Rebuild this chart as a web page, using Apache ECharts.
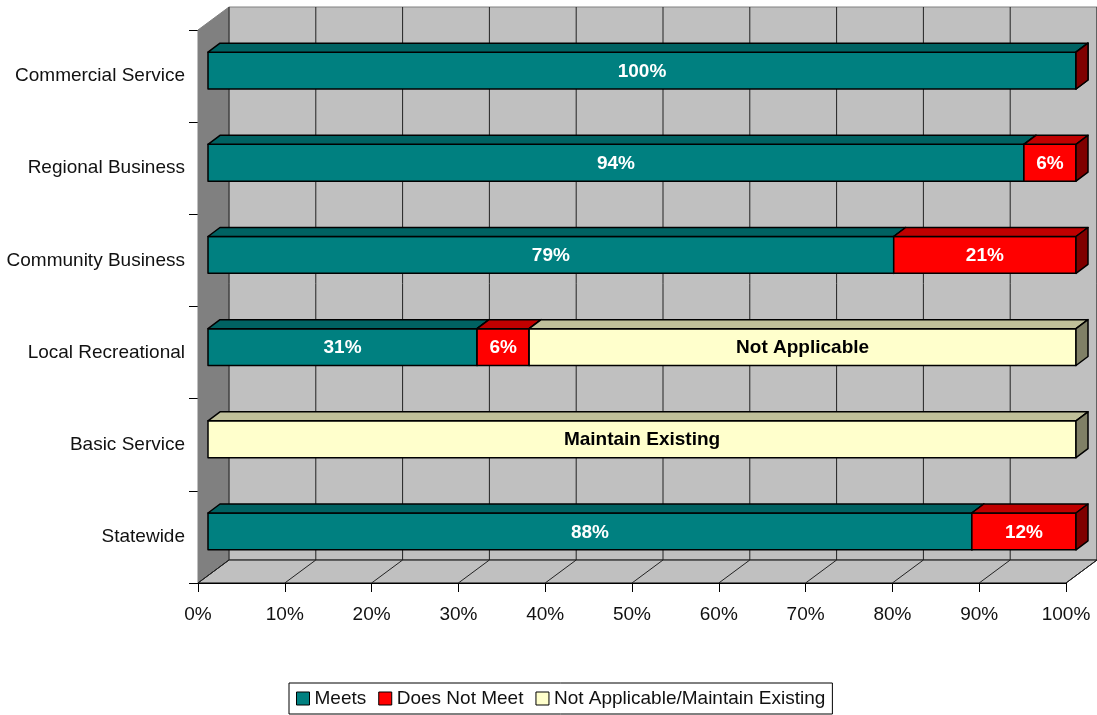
<!DOCTYPE html>
<html>
<head>
<meta charset="utf-8">
<script src="https://cdn.jsdelivr.net/npm/echarts@6/dist/echarts.min.js"></script>
<style>
  html, body { margin: 0; padding: 0; background: #fff; }
  #chart { width: 1097px; height: 715px; }
</style>
</head>
<body>
<div id="chart"></div>
<script>
// Route classes and how each one rates against the standard (percent of routes)
const categories = ['Commercial Service', 'Regional Business', 'Community Business', 'Local Recreational', 'Basic Service', 'Statewide'];
const meets = [100, 94, 79, 31, null, 88];
const doesNotMeet = [0, 6, 21, 6, null, 12];
const notApplicable = [null, null, null, 63, 100, null];
const notApplicableText = ['', '', '', 'Not Applicable', 'Maintain Existing', ''];
const seriesNames = ['Meets', 'Does Not Meet', 'Not Applicable/Maintain Existing'];
const xTicks = [0, 10, 20, 30, 40, 50, 60, 70, 80, 90, 100];

const FONT = '"Liberation Sans", Arial, sans-serif';

// Pseudo-3D depth of the plot box and of the bars (pixels)
const DEPTH_X = 31, DEPTH_Y = -23;
const BAR_OFF_X = 10, BAR_OFF_Y = -5.5;
const BAR_DEPTH_X = 12, BAR_DEPTH_Y = -9;

const palettes = [
  { front: '#008080', top: '#006262', side: '#004040', text: '#ffffff' },
  { front: '#ff0000', top: '#c00000', side: '#800000', text: '#ffffff' },
  { front: '#ffffcc', top: '#c0c09a', side: '#808066', text: '#000000' }
];

// Build stacked segments [start, end, row, value, label]
const seriesValues = [meets, doesNotMeet, notApplicable];
const stackBase = categories.map(() => 0);
const segments = seriesValues.map((vals, si) => {
  const out = [];
  vals.forEach((v, i) => {
    if (v === null || v === undefined) return;
    const start = stackBase[i];
    const end = start + v;
    stackBase[i] = end;
    const label = si === 2 ? notApplicableText[i] : (v > 0 ? v + '%' : '');
    out.push([start, end, i, v, label]);
  });
  return out;
});

function renderBackdrop(params, api) {
  const cs = params.coordSys;
  const L = cs.x, T = cs.y, R = cs.x + cs.width, B = cs.y + cs.height;
  const children = [];
  // side wall
  children.push({ type: 'polygon', shape: { points: [[L, T], [L + DEPTH_X, T + DEPTH_Y], [L + DEPTH_X, B + DEPTH_Y], [L, B]] },
    style: { fill: '#808080', stroke: '#808080', lineWidth: 1 } });
  // back wall
  children.push({ type: 'rect', shape: { x: L + DEPTH_X, y: T + DEPTH_Y, width: R - L, height: B - T },
    style: { fill: '#c0c0c0', stroke: '#808080', lineWidth: 1 } });
  // floor
  children.push({ type: 'polygon', shape: { points: [[L, B], [L + DEPTH_X, B + DEPTH_Y], [R + DEPTH_X, B + DEPTH_Y], [R, B]] },
    style: { fill: '#c0c0c0', stroke: '#000', lineWidth: 1 } });
  // gridlines on back wall and floor
  xTicks.forEach(v => {
    const x = api.coord([v, 0])[0];
    children.push({ type: 'line', shape: { x1: x + DEPTH_X, y1: T + DEPTH_Y, x2: x + DEPTH_X, y2: B + DEPTH_Y },
      style: { stroke: '#222', lineWidth: 1 } });
    children.push({ type: 'line', shape: { x1: x, y1: B, x2: x + DEPTH_X, y2: B + DEPTH_Y },
      style: { stroke: '#222', lineWidth: 1 } });
  });
  return { type: 'group', silent: true, children };
}

function makeBarRenderer(pal) {
  return function (params, api) {
    const s = api.value(0), e = api.value(1), row = api.value(2);
    const p0 = api.coord([s, row]);
    const p1 = api.coord([e, row]);
    const h = api.size([0, 1])[1] * 0.4;
    const x0 = p0[0] + BAR_OFF_X, x1 = p1[0] + BAR_OFF_X;
    const yt = p0[1] - h / 2 + BAR_OFF_Y, yb = yt + h;
    const stroke = { stroke: '#000', lineWidth: 1.5, lineJoin: 'round' };
    const children = [];
    if (x1 > x0) {
      children.push({ type: 'rect', shape: { x: x0, y: yt, width: x1 - x0, height: h },
        style: Object.assign({ fill: pal.front }, stroke) });
      children.push({ type: 'polygon', shape: { points: [[x0, yt], [x0 + BAR_DEPTH_X, yt + BAR_DEPTH_Y], [x1 + BAR_DEPTH_X, yt + BAR_DEPTH_Y], [x1, yt]] },
        style: Object.assign({ fill: pal.top }, stroke) });
    }
    children.push({ type: 'polygon', shape: { points: [[x1, yt], [x1 + BAR_DEPTH_X, yt + BAR_DEPTH_Y], [x1 + BAR_DEPTH_X, yb + BAR_DEPTH_Y], [x1, yb]] },
      style: Object.assign({ fill: pal.side }, stroke) });
    const label = api.value(4);
    if (label) {
      children.push({ type: 'text', style: { text: label, x: (x0 + x1) / 2, y: (yt + yb) / 2 + 1,
        align: 'center', verticalAlign: 'middle', fill: pal.text, font: 'bold 19px ' + FONT } });
    }
    return { type: 'group', children };
  };
}

const chart = echarts.init(document.getElementById('chart'), null, { renderer: 'canvas' });

const series = [{
  type: 'custom',
  name: 'backdrop',
  silent: true,
  z: 1,
  renderItem: renderBackdrop,
  data: [[0, 0]],
  encode: { x: 0, y: 1 }
}];
seriesValues.forEach((_, si) => {
  series.push({
    type: 'custom',
    name: seriesNames[si],
    z: 2,
    itemStyle: { color: palettes[si].front },
    renderItem: makeBarRenderer(palettes[si]),
    dimensions: ['start', 'end', 'row', 'value', 'label'],
    encode: { x: [0, 1], y: 2 },
    data: segments[si]
  });
});

chart.setOption({
  animation: false,
  backgroundColor: '#ffffff',
  grid: { left: 198, right: 31, top: 30, bottom: 132, containLabel: false },
  xAxis: {
    type: 'value', min: 0, max: 100, interval: 10,
    axisLine: { show: true, lineStyle: { color: '#000', width: 1 } },
    axisTick: { show: true, length: 9, lineStyle: { color: '#000' } },
    splitLine: { show: false },
    axisLabel: { formatter: '{value}%', color: '#111', fontSize: 19, fontFamily: FONT, margin: 22 }
  },
  yAxis: {
    type: 'category', data: categories, inverse: true,
    axisLine: { show: true, lineStyle: { color: '#000', width: 1 } },
    axisTick: { show: true, length: 9, lineStyle: { color: '#000' } },
    splitLine: { show: false },
    axisLabel: { color: '#111', fontSize: 19, fontFamily: FONT, margin: 13 }
  },
  legend: {
    data: seriesNames,
    top: 683, left: 289,
    icon: 'rect', itemWidth: 13, itemHeight: 13, itemGap: 12,
    itemStyle: { borderColor: '#000', borderWidth: 1 },
    borderColor: '#000', borderWidth: 1, borderRadius: 0,
    padding: [6, 7],
    textStyle: { color: '#111', fontSize: 19, fontFamily: FONT }
  },
  series
});
</script>
</body>
</html>
